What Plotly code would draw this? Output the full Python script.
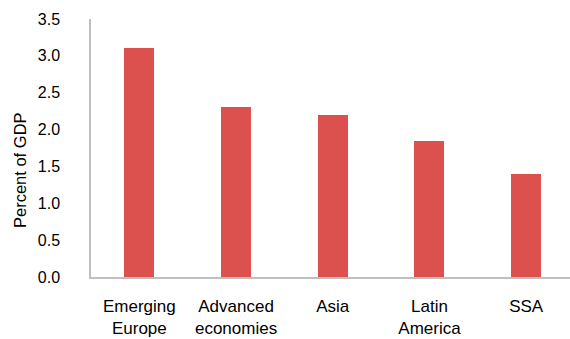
import plotly.graph_objects as go

categories = ["Emerging<br>Europe", "Advanced<br>economies", "Asia", "Latin<br>America", "SSA"]
values = [3.1, 2.3, 2.2, 1.84, 1.4]
y_ticks = [0, 0.5, 1.0, 1.5, 2.0, 2.5, 3.0, 3.5]
y_ticklabels = ["0.0", "0.5", "1.0", "1.5", "2.0", "2.5", "3.0", "3.5"]

bar_color = "#DC504E"
axis_color = "#BFBFBF"
font_family = "Liberation Sans, Arial, sans-serif"

fig = go.Figure(go.Bar(
    x=list(range(len(categories))),
    y=values,
    marker=dict(color=bar_color, line=dict(width=0)),
    width=0.31,
))

fig.update_layout(
    width=570, height=339,
    margin=dict(l=91, r=0, t=19, b=62),
    plot_bgcolor="white", paper_bgcolor="white",
    font=dict(family=font_family, size=16, color="#000000"),
    showlegend=False,
    bargap=0,
)
fig.update_xaxes(
    range=[-0.5, 4.453],
    tickmode="array",
    tickvals=list(range(len(categories))),
    ticktext=categories,
    showline=True, linecolor=axis_color, linewidth=1.5,
    ticks="", showgrid=False, zeroline=False,
    tickfont=dict(size=17),
    ticklabelstandoff=13,
)
fig.update_yaxes(
    range=[0, 3.5],
    tickmode="array",
    tickvals=y_ticks,
    ticktext=y_ticklabels,
    showline=True, linecolor=axis_color, linewidth=1.5,
    ticks="", showgrid=False, zeroline=False,
    tickfont=dict(size=16),
    ticklabelstandoff=26,
)
fig.add_annotation(
    text="Percent of GDP",
    xref="paper", yref="paper",
    x=-91/479 + 20/479, y=(277 - 170) / 258,
    xanchor="center", yanchor="middle",
    textangle=-90, showarrow=False,
    font=dict(size=16.5),
)

fig.write_html("out.html")
